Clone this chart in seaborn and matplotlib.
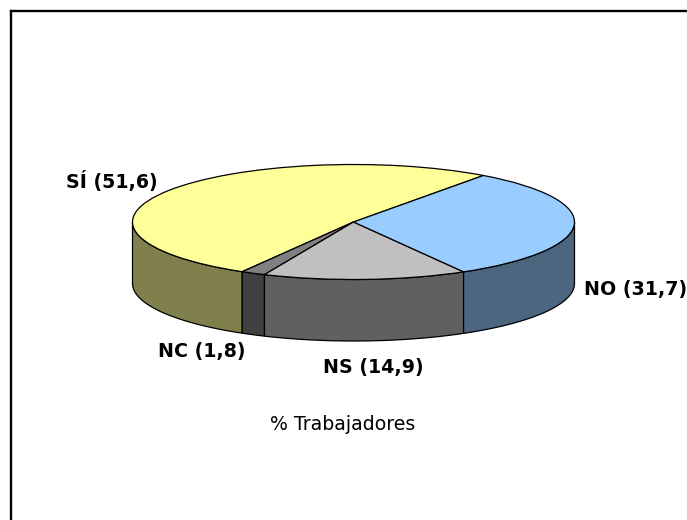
import numpy as np
import matplotlib
matplotlib.use("Agg")
import matplotlib.pyplot as plt
import seaborn as sns

labels = ["SÍ (51,6)", "NC (1,8)", "NS (14,9)", "NO (31,7)"]
values = [51.6, 1.8, 14.9, 31.7]
top_colors = ["#FFFF99", "#808080", "#C0C0C0", "#99CCFF"]
wall_colors = ["#80804D", "#404040", "#606060", "#4D6680"]
caption = "% Trabajadores"

W, H = 687, 520
CX, CY, A, B, DEPTH = 353.5, 222.0, 221.0, 57.5, 61.5
LEFT, TOP = 10.5, 10.5
START = 54.0  # SÍ starts at the upper right and runs counter-clockwise

sns.set_theme(style="white")
plt.rcParams["font.family"] = ["DejaVu Sans"]

fig = plt.figure(figsize=(W / 100, H / 100), dpi=100, facecolor="white")
ax = fig.add_axes([LEFT / W, 0, (W - LEFT) / W, (H - TOP) / H])

wedges, _ = ax.pie(values, colors=top_colors, startangle=START, counterclock=True,
                   wedgeprops=dict(edgecolor="black", linewidth=0.9, zorder=5))
ax.set_aspect("auto")
ax.set_xlim((LEFT - CX) / A, (W - CX) / A)
ax.set_ylim(-(H - CY) / B, (CY - TOP) / B)
ax.set_xticks([])
ax.set_yticks([])
ax.set_frame_on(True)
for side in ("right", "bottom"):
    ax.spines[side].set_visible(False)
for side in ("left", "top"):
    ax.spines[side].set_visible(True)
    ax.spines[side].set_color("black")
    ax.spines[side].set_linewidth(1.7)

# side walls: visible (front) part of every wedge, extruded downward
d = DEPTH / B
for w, col in zip(wedges, wall_colors):
    t1, t2 = w.theta1, w.theta2
    for k in (0, 1):
        lo, hi = max(t1, 180 + 360 * k), min(t2, 360 + 360 * k)
        if hi <= lo:
            continue
        t = np.radians(np.linspace(lo, hi, 120))
        x, y = np.cos(t), np.sin(t)
        ax.fill(np.r_[x, x[::-1]], np.r_[y, y[::-1] - d], facecolor=col,
                edgecolor="black", linewidth=0.9, zorder=3)

text_pos = {"SÍ (51,6)": (111.5, 181.5), "NC (1,8)": (202, 352),
            "NS (14,9)": (373.5, 367), "NO (31,7)": (636, 289)}
for lab in labels:
    x, y = text_pos[lab]
    fig.text(x / W, 1 - y / H, lab, ha="center", va="center",
             fontsize=13.7, fontweight="bold", color="black")
fig.text(343 / W, 1 - 425 / H, caption, ha="center", va="center",
         fontsize=13.6, color="black")

fig.savefig("out.png", dpi=100, facecolor="white")
